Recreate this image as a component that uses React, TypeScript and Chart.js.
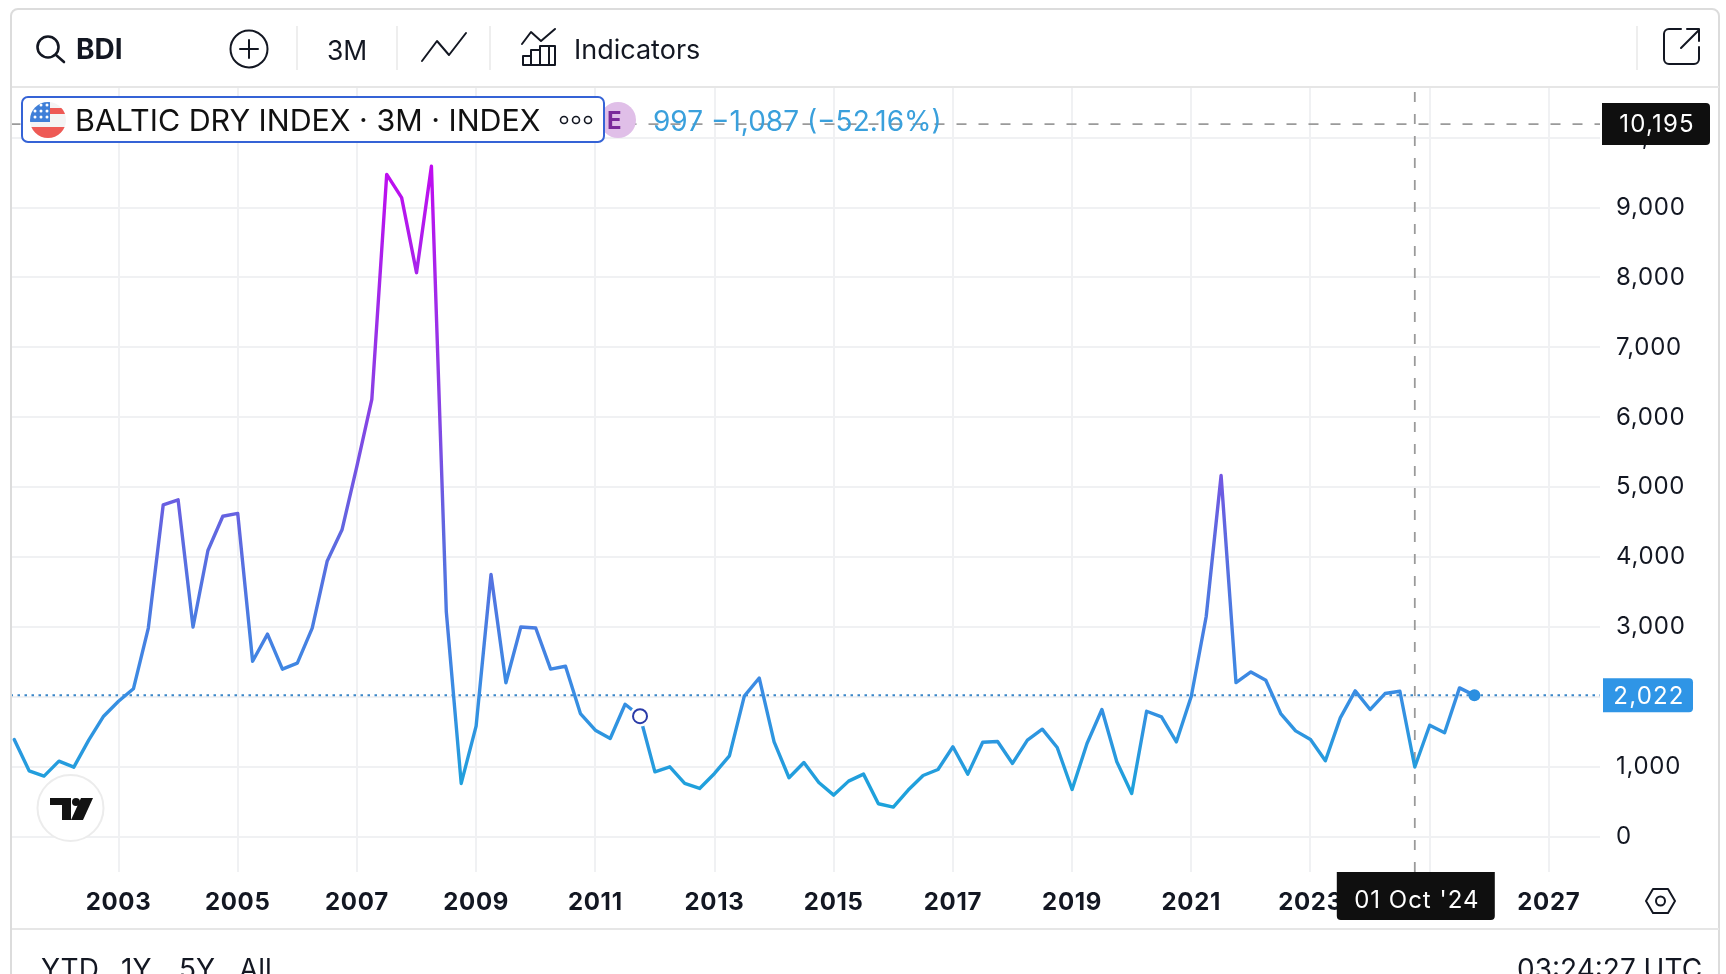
import { useEffect, useRef } from "react";
import { Chart, registerables } from "chart.js";

Chart.register(...registerables);

// quarterly closes, Apr 2001 to Oct 2025 (one value per bar)
const bdiValues = [
  1390, 943, 867, 1081, 995, 1381, 1724, 1938, 2116, 2985,
  4748, 4819, 3000, 4094, 4584, 4625, 2510, 2898, 2397, 2484,
  2985, 3940, 4390, 5300, 6255, 9475, 9142, 8069, 9592, 3215,
  762, 1581, 3751, 2203, 3000, 2985, 2397, 2438, 1762, 1524,
  1405, 1895, 1724, 928, 1000, 762, 690, 905, 1157, 2010,
  2271, 1357, 843, 1062, 776, 595, 795, 895, 471, 424,
  667, 876, 962, 1286, 895, 1352, 1362, 1048, 1381, 1538,
  1276, 676, 1333, 1819, 1071, 619, 1795, 1714, 1357, 2010,
  3150, 5167, 2205, 2357, 2238, 1762, 1514, 1390, 1086, 1700,
  2086, 1819, 2048, 2081, 997, 1595, 1486, 2129, 2022,
];

const yearLabels = ["2003", "2005", "2007", "2009", "2011", "2013", "2015", "2017", "2019", "2021", "2023", "2025", "2027"];
const yearBars = [7, 15, 23, 31, 39, 47, 55, 63, 71, 79, 87, 95, 103];
const yTicks = [0, 1000, 2000, 3000, 4000, 5000, 6000, 7000, 8000, 9000, 10000];

const lastPrice = 2022;
const crosshairPrice = 10195;
const crosshairBar = 94;
const crosshairLabel = "01 Oct '24";
const markerBar = 42;

const xMin = -0.25;
const xMax = 106.43;
const yMin = -505;
const yMax = 10718;

const FONT = "Inter, 'Noto Sans', sans-serif";
const INK = "#131722";

function priceTag(ctx: any, text: string, x: number, w: number, cy: number, h: number, fill: string) {
  ctx.save();
  ctx.fillStyle = fill;
  ctx.beginPath();
  ctx.roundRect(x, cy - h / 2, w, h, [0, 4, 4, 0]);
  ctx.fill();
  ctx.fillStyle = "#ffffff";
  ctx.font = `24px ${FONT}`;
  ctx.letterSpacing = "1.2px";
  ctx.textAlign = "center";
  ctx.textBaseline = "middle";
  ctx.fillText(text, x + w / 2 + 1, cy + 1);
  ctx.restore();
}

// slight tracking on the axis labels, and the boxes on the axes placed through the scales
const axisTags = {
  id: "axisTags",
  beforeDraw(chart: any) {
    chart.ctx.letterSpacing = "0.7px";
  },
  afterDraw(chart: any) {
    const { ctx, scales } = chart;
    ctx.letterSpacing = "0px";
    priceTag(ctx, crosshairPrice.toLocaleString("en-US"), 1602, 108, scales.y.getPixelForValue(crosshairPrice), 42, "#0f0f0f");
    priceTag(ctx, lastPrice.toLocaleString("en-US"), 1603, 90, scales.y.getPixelForValue(lastPrice), 34, "#2f95e6");
    const cx = scales.x.getPixelForValue(crosshairBar);
    ctx.save();
    ctx.fillStyle = "#0f0f0f";
    ctx.beginPath();
    ctx.roundRect(cx - 78, 872, 158, 48, [0, 0, 4, 4]);
    ctx.fill();
    ctx.fillStyle = "#ffffff";
    ctx.font = `24px ${FONT}`;
    ctx.letterSpacing = "1px";
    ctx.textAlign = "center";
    ctx.textBaseline = "middle";
    ctx.fillText(crosshairLabel, cx + 2, 901);
    ctx.restore();
  },
};

function lineGradient(context: any) {
  const { chart } = context;
  const y = chart.scales?.y;
  if (!y || !chart.chartArea) return "#2a9fe0";
  const g = chart.ctx.createLinearGradient(0, y.getPixelForValue(9600), 0, y.getPixelForValue(0));
  g.addColorStop(0, "#c00cf0");
  g.addColorStop(0.35, "#8a40e5");
  g.addColorStop(0.55, "#5f68e0");
  g.addColorStop(0.78, "#3a8ce3");
  g.addColorStop(0.92, "#20a0dc");
  g.addColorStop(1, "#18a6da");
  return g;
}

function BdiChart() {
  const canvasRef = useRef<HTMLCanvasElement>(null);

  useEffect(() => {
    if (!canvasRef.current) return;
    const chart = new Chart(canvasRef.current, {
      type: "line",
      data: {
        datasets: [
          {
            data: [{ x: bdiValues.length - 1, y: lastPrice }],
            pointRadius: 6,
            pointBackgroundColor: "#2b8fe0",
            pointBorderWidth: 0,
            showLine: false,
            order: 0,
          },
          {
            data: [{ x: markerBar, y: bdiValues[markerBar] }],
            pointRadius: 7,
            pointBackgroundColor: "#ffffff",
            pointBorderColor: "#2a3ba8",
            pointBorderWidth: 2,
            showLine: false,
            order: 1,
          },
          {
            data: [{ x: markerBar, y: bdiValues[markerBar] }],
            pointRadius: 10.5,
            pointBackgroundColor: "#ffffff",
            pointBorderWidth: 0,
            showLine: false,
            order: 2,
          },
          {
            data: bdiValues.map((y, x) => ({ x, y })),
            borderColor: lineGradient,
            borderWidth: 3.4,
            borderJoinStyle: "round",
            borderCapStyle: "round",
            pointRadius: 0,
            tension: 0,
            order: 3,
          },
          {
            data: [{ x: xMin, y: lastPrice }, { x: xMax, y: lastPrice }],
            borderColor: "#3a86c8",
            borderWidth: 2,
            borderDash: [2.5, 4.5],
            pointRadius: 0,
            order: 4,
          },
          {
            data: [{ x: xMin, y: crosshairPrice }, { x: xMax, y: crosshairPrice }],
            borderColor: "#9a9a9a",
            borderWidth: 1.8,
            borderDash: [10, 12],
            pointRadius: 0,
            order: 5,
          },
          {
            data: [{ x: crosshairBar, y: yMin }, { x: crosshairBar, y: yMax }],
            borderColor: "#9a9a9a",
            borderWidth: 1.8,
            borderDash: [10, 12],
            pointRadius: 0,
            order: 5,
          },
        ],
      } as any,
      options: {
        animation: false,
        responsive: false,
        layout: { padding: { left: 10.5, top: 87.5, right: 0, bottom: 0 } },
        plugins: { legend: { display: false }, tooltip: { enabled: false } },
        scales: {
          x: {
            type: "linear",
            min: xMin,
            max: xMax,
            border: { display: false },
            grid: { color: "#f0f1f3", lineWidth: 2, drawTicks: false },
            afterBuildTicks: (scale: any) => {
              scale.ticks = yearBars.map((value) => ({ value }));
            },
            afterFit: (scale: any) => {
              scale.height = 102;
            },
            ticks: {
              autoSkip: false,
              maxRotation: 0,
              padding: 16,
              color: INK,
              font: { family: FONT, size: 24, weight: "bold" },
              callback: (value: any) => yearLabels[yearBars.indexOf(value)],
            },
          },
          y: {
            position: "right",
            min: yMin,
            max: yMax,
            border: { display: false },
            grid: { color: "#f0f1f3", lineWidth: 2, drawTicks: false },
            afterBuildTicks: (scale: any) => {
              scale.ticks = yTicks.map((value) => ({ value }));
            },
            afterFit: (scale: any) => {
              scale.width = 126;
            },
            ticks: {
              padding: 16,
              align: "center",
              crossAlign: "near",
              color: INK,
              font: { family: FONT, size: 24 },
              callback: (value: any) => Number(value).toLocaleString("en-US"),
            },
          },
        },
      } as any,
      plugins: [axisTags],
    });
    return () => chart.destroy();
  }, []);

  return <canvas ref={canvasRef} width={1726} height={974} style={{ position: "absolute", left: 0, top: 0, width: 1726, height: 974 }} />;
}

const at = (left: number, top: number, extra: any = {}) => ({ position: "absolute", left, top, lineHeight: 1, whiteSpace: "nowrap", ...extra } as any);

// stars of the flag's canton
const starSpots = [[6, 5], [12, 5], [18, 5], [6, 11], [12, 11], [18, 11], [6, 17], [12, 17], [18, 17]];

function Overlay() {
  const stroke = { fill: "none", stroke: INK, strokeWidth: 2, strokeLinecap: "round", strokeLinejoin: "round" } as any;
  return (
    <>
      <div style={{ position: "absolute", left: 10, top: 8, width: 1710, height: 980, border: "2px solid #dcdcdc", borderRadius: 8, boxSizing: "border-box" }} />
      <div style={{ position: "absolute", left: 12, top: 86, width: 1707, height: 2, background: "#e6e6e6" }} />
      <div style={{ position: "absolute", left: 12, top: 928, width: 1707, height: 2, background: "#e6e6e6" }} />

      <svg width={1726} height={974} style={{ position: "absolute", left: 0, top: 0, pointerEvents: "none" }}>
        {/* header */}
        <circle cx={48} cy={47} r={10.5} {...stroke} strokeWidth={2.6} />
        <line x1={56} y1={55} x2={64} y2={62} {...stroke} strokeWidth={2.6} />
        <circle cx={249} cy={49} r={18.5} {...stroke} />
        <path d="M249 40v18M240 49h18" {...stroke} />
        <path d="M297 26v44M397 26v44M490 26v44M1637 26v44" stroke="#eeeeee" strokeWidth={2} />
        <path d="M422 61 437 41 449 55 466 33" {...stroke} />
        <path d="M522 44 531 32 541 41 555 29" {...stroke} />
        <path d="M523 65V56h8v9M531 65V50h9v15M540 65V46h9v19M523 65h32M549 65V46h6v19" {...stroke} />
        <path d="M1681 29h-12a5 5 0 0 0-5 5v25a5 5 0 0 0 5 5h25a5 5 0 0 0 5-5V47M1681 48 1699 30M1687 29h12v12" {...stroke} />
        {/* settings hexagon */}
        <path d="M1653 889h15l7 12-7 12h-15l-7-12z" {...stroke} />
        <circle cx={1660.5} cy={901} r={4.5} {...stroke} />
        {/* logo badge */}
        <circle cx={70.5} cy={808} r={33} fill="#ffffff" stroke="#ececec" strokeWidth={2} />
        <path d="M50 798h21v22h-9v-15H50z" fill="#131313" />
        <circle cx={76} cy={802} r={4} fill="#131313" />
        <path d="M81 798h12l-10 22H71z" fill="#131313" />
        {/* E badge */}
        <circle cx={618} cy={120} r={18} fill="#e0bfe8" />
      </svg>

      <div style={at(76, 35, { fontSize: 28, fontWeight: 700, color: INK })}>BDI</div>
      <div style={at(327, 37, { fontSize: 26.5, color: INK })}>3M</div>
      <div style={at(574, 36, { fontSize: 27, color: INK })}>Indicators</div>

      <div style={at(607, 109, { fontSize: 24, fontWeight: 700, color: "#7a2a9a" })}>E</div>
      <div style={at(653, 107, { fontSize: 28, color: "#3aa0dc" })}>997 −1,087 (−52.16%)</div>

      <div style={{ position: "absolute", left: 21, top: 96, width: 584, height: 47, border: "2px solid #3563d6", borderRadius: 7, background: "#ffffff", boxSizing: "border-box" }} />
      <svg width={40} height={40} style={{ position: "absolute", left: 28, top: 100 }}>
        <defs>
          <clipPath id="flagClip">
            <circle cx={20} cy={20} r={18} />
          </clipPath>
        </defs>
        <g clipPath="url(#flagClip)">
          <rect width={40} height={40} fill="#f4f4f4" />
          <rect y={8} x={20} width={20} height={6} fill="#ee5a55" />
          <rect y={27} width={40} height={14} fill="#ee5a55" />
          <rect width={22} height={22} x={0} y={0} fill="#3f7fd8" />
          {starSpots.map(([x, y]) => (
            <circle key={`${x}-${y}`} cx={x + 1} cy={y} r={1.5} fill="#ffffff" />
          ))}
        </g>
      </svg>
      <div style={at(75, 105, { fontSize: 30.4, color: "#111111" })}>BALTIC DRY INDEX · 3M · INDEX</div>
      <svg width={36} height={12} style={{ position: "absolute", left: 558, top: 114 }}>
        <circle cx={6} cy={6} r={3.5} fill="none" stroke={INK} strokeWidth={1.6} />
        <circle cx={18} cy={6} r={3.5} fill="none" stroke={INK} strokeWidth={1.6} />
        <circle cx={30} cy={6} r={3.5} fill="none" stroke={INK} strokeWidth={1.6} />
      </svg>

      <div style={at(41, 955, { fontSize: 28, color: INK })}>YTD</div>
      <div style={at(121, 955, { fontSize: 28, color: INK })}>1Y</div>
      <div style={at(179, 955, { fontSize: 28, color: INK })}>5Y</div>
      <div style={at(239, 955, { fontSize: 28, color: INK })}>All</div>
      <div style={at(1517, 955, { fontSize: 28, color: INK })}>03:24:27 UTC</div>
    </>
  );
}

export default function App() {
  return (
    <div style={{ position: "fixed", left: 0, top: 0, width: 1726, height: 974, overflow: "hidden", background: "#ffffff", fontFamily: FONT }}>
      <BdiChart />
      <Overlay />
    </div>
  );
}
